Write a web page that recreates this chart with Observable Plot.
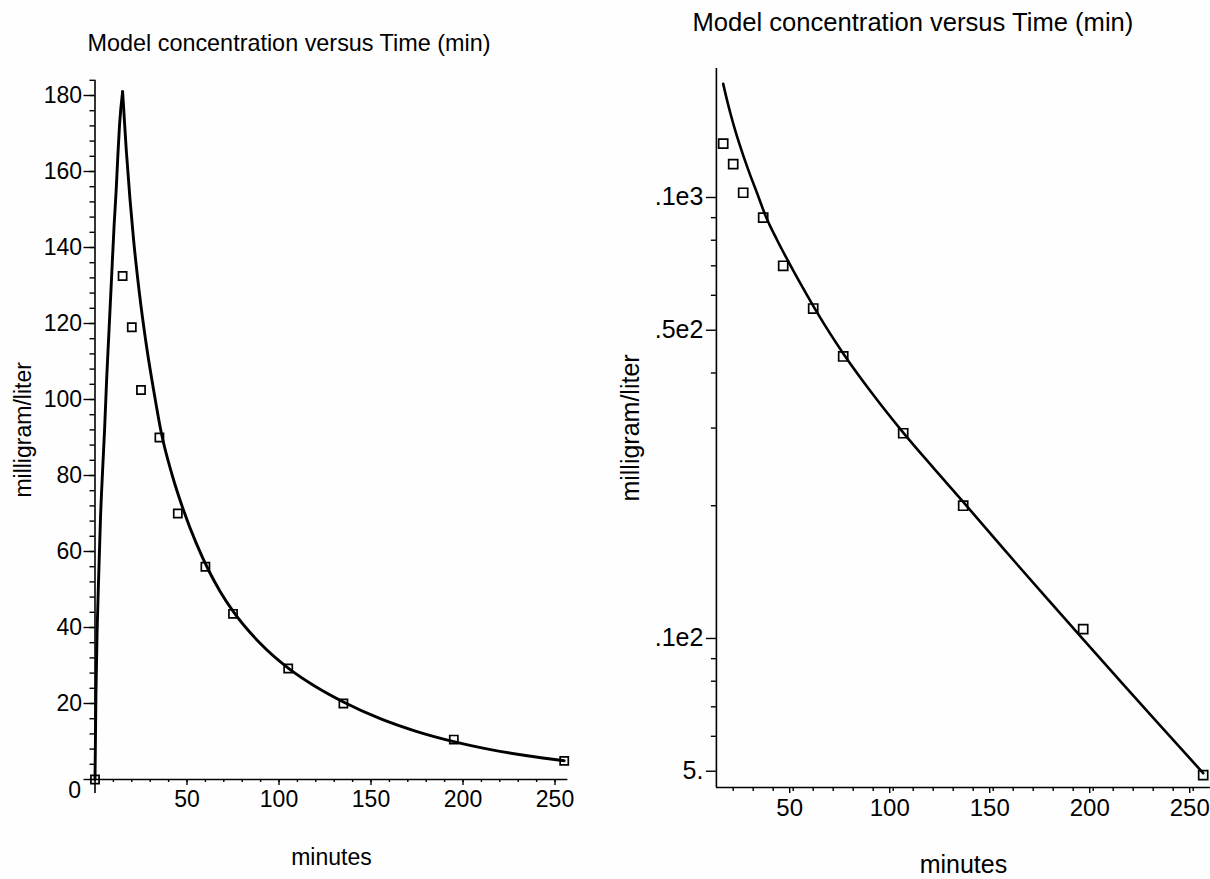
<!DOCTYPE html>
<html>
<head>
<meta charset="utf-8">
<script src="https://cdn.jsdelivr.net/npm/d3@7"></script>
<script src="https://cdn.jsdelivr.net/npm/@observablehq/plot@0.6"></script>
<style>
  html, body { margin: 0; padding: 0; background: #ffffff; }
  #wrap { position: relative; width: 1210px; height: 879px; overflow: hidden; background: #fefefe; }
  #left { position: absolute; left: 0; top: 0; width: 600px; height: 879px; }
  #right { position: absolute; left: 600px; top: 0; width: 610px; height: 879px; }
</style>
</head>
<body>
<div id="wrap"><div id="left"></div><div id="right"></div></div>
<script>
// ---- texts ----
const titleText = "Model concentration versus Time (min)";
const xLabel = "minutes";
const yLabel = "milligram/liter";

// ---- measured samples (squares) ----
const sampleTimes = [0, 15, 20, 25, 35, 45, 60, 75, 105, 135, 195, 255];
const sampleConc  = [0, 132.5, 119, 102.5, 90, 70, 56, 43.6, 29.2, 20, 10.5, 4.9];

// ---- model curve ----
// infusion phase (rise) and decay phase share the peak at t = 15
const riseTimes = [0, 0.5, 1.2, 2.1, 3, 4.2, 5.2, 6.3, 7.5, 9, 10.4, 11.5, 12.4, 13.3, 15];
const riseConc  = [0, 22, 40, 55, 69, 82, 92, 105, 117, 132, 146, 155, 164, 172, 181];
const decayTimes = [15, 17, 19, 21, 24, 28, 32, 36, 42, 48, 55, 62, 68, 75, 90, 105, 120, 135, 155, 175, 195, 215, 235, 255];
const decayConc  = [181, 165.6, 152.8, 141.9, 128.5, 114, 102.1, 91.3, 80, 71, 62.2, 54.8, 49.5, 44.3, 35.7, 29.3, 24.4, 20.4, 16, 12.6, 9.95, 7.87, 6.24, 4.95];

// ---- ticks ----
const leftYMajor = [0, 20, 40, 60, 80, 100, 120, 140, 160, 180];
const leftYMinor = d3.range(0, 185, 4);
const leftXMajor = [50, 100, 150, 200, 250];
const leftXMinor = d3.range(10, 251, 10);
const rightYMajor = [100, 50, 10, 5];
const rightYLabels = [".1e3", ".5e2", ".1e2", "5."];
const rightYMinor = [90, 80, 70, 60, 40, 30, 20, 9, 8, 7, 6];
const rightXMajor = [50, 100, 150, 200, 250];
const rightXMinor = d3.range(20, 251, 10);

const samples = sampleTimes.map((t, i) => ({t, c: sampleConc[i]}));
const model = [
  ...riseTimes.map((t, i) => ({t, c: riseConc[i], phase: "rise"})),
  ...decayTimes.map((t, i) => ({t, c: decayConc[i], phase: "decay"}))
];

const font = "'Liberation Sans', Arial, Helvetica, sans-serif";
const baseStyle = {fontFamily: font, fontSize: "23px", background: "transparent", color: "black", overflow: "visible"};

// ---------------- left chart (linear) ----------------
const leftXMax = 257;
const leftYMax = 184;
const left = Plot.plot({
  width: 600, height: 879,
  marginLeft: 94.5, marginRight: 32.6, marginTop: 79.8, marginBottom: 100,
  x: {domain: [0, leftXMax], axis: null, label: null},
  y: {domain: [0, leftYMax], axis: null, label: null},
  style: baseStyle,
  marks: [
    Plot.ruleX([0], {stroke: "black", strokeWidth: 1.6}),
    Plot.ruleY([0], {x1: 0, x2: leftXMax, stroke: "black", strokeWidth: 1.6}),
    Plot.axisY(leftYMinor, {tickSize: 5, tickFormat: () => "", label: null, strokeWidth: 1.4}),
    Plot.axisY(leftYMajor, {tickSize: 11, tickPadding: 2, label: null, strokeWidth: 1.4, fontSize: 23,
      tickFormat: d => d === 0 ? "" : String(d)}),
    Plot.text([0], {x: 0, y: d => d, text: d => String(d), dx: -14, dy: 11, textAnchor: "end", fontSize: 23, lineAnchor: "middle"}),
    Plot.axisX(leftXMinor, {tickSize: 3, tickFormat: () => "", label: null, strokeWidth: 1.4}),
    Plot.axisX(leftXMajor, {tickSize: 6, tickPadding: 5, label: null, strokeWidth: 1.4, fontSize: 23,
      tickFormat: d => String(d)}),
    Plot.axisX([0], {tickSize: 14, tickFormat: () => "", label: null, strokeWidth: 1.6}),
    Plot.line(model, {x: "t", y: "c", z: "phase", stroke: "black", strokeWidth: 2.9, curve: "monotone-x"}),
    Plot.dot(samples, {x: "t", y: "c", symbol: "square", r: 4.6, stroke: "black", strokeWidth: 1.7, fill: "none"}),
    Plot.text([titleText], {frameAnchor: "top-left", textAnchor: "start", dx: -7.5, dy: -36.8, fontSize: 23.4, lineAnchor: "middle"}),
    Plot.text([xLabel], {frameAnchor: "bottom", textAnchor: "middle", dy: 78, fontSize: 23, lineAnchor: "middle"}),
    Plot.text([yLabel], {frameAnchor: "left", textAnchor: "middle", rotate: -90, dx: -71.5, fontSize: 23, lineAnchor: "middle"})
  ]
});
document.getElementById("left").appendChild(left);

// ---------------- right chart (log) ----------------
const rightXDomain = [11.6, 258.6];
const rightYDomain = [4.593, 196.1];
const right = Plot.plot({
  width: 610, height: 879,
  marginLeft: 115.9, marginRight: 0.1, marginTop: 68, marginBottom: 92,
  x: {domain: rightXDomain, axis: null, label: null},
  y: {type: "log", domain: rightYDomain, axis: null, label: null},
  style: baseStyle,
  marks: [
    Plot.ruleX([rightXDomain[0]], {stroke: "black", strokeWidth: 1.6}),
    Plot.ruleY([rightYDomain[0]], {stroke: "black", strokeWidth: 1.6}),
    Plot.axisY(rightYMinor, {tickSize: 5, tickFormat: () => "", label: null, strokeWidth: 1.4}),
    Plot.axisY(rightYMajor, {tickSize: 10, tickPadding: 3, label: null, strokeWidth: 1.4, fontSize: 25,
      tickFormat: d => rightYLabels[rightYMajor.indexOf(d)]}),
    Plot.axisX(rightXMinor, {tickSize: 4, tickFormat: () => "", label: null, strokeWidth: 1.4}),
    Plot.axisX(rightXMajor, {tickSize: 6, tickPadding: 5, label: null, strokeWidth: 1.4, fontSize: 24, dx: -3.5,
      tickFormat: d => String(d)}),
    Plot.line(model.filter(d => d.phase === "decay"), {x: "t", y: "c", stroke: "black", strokeWidth: 2.6, curve: "monotone-x"}),
    Plot.dot(samples.filter(d => d.c > 0), {x: "t", y: "c", symbol: "square", r: 5.1, stroke: "black", strokeWidth: 1.7, fill: "none"}),
    Plot.text([titleText], {frameAnchor: "top-left", textAnchor: "start", dx: -24, dy: -46, fontSize: 25.6, lineAnchor: "middle"}),
    Plot.text([xLabel], {frameAnchor: "bottom", textAnchor: "middle", dy: 77, fontSize: 25, lineAnchor: "middle"}),
    Plot.text([yLabel], {frameAnchor: "left", textAnchor: "middle", rotate: -90, dx: -85, fontSize: 25, lineAnchor: "middle"})
  ]
});
document.getElementById("right").appendChild(right);
</script>
</body>
</html>
